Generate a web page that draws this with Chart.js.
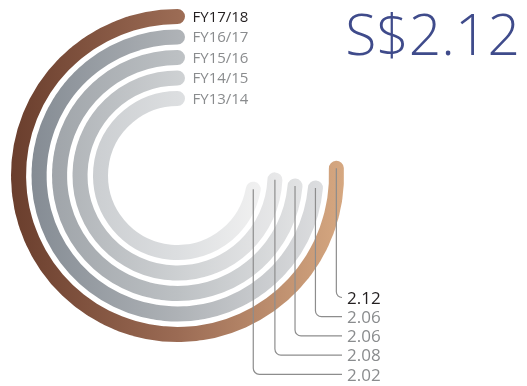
<!DOCTYPE html>
<html lang="en">
<head>
  <meta charset="UTF-8">
  <title>Dividend per share</title>
  <script src="https://cdn.jsdelivr.net/npm/chart.js"></script>
  <style>
    html, body { margin: 0; padding: 0; background: #fff; }
    #wrap { position: relative; width: 527px; height: 386px; }
  </style>
</head>
<body>
  <div id="wrap"><canvas id="myChart"></canvas></div>

  <script>
    // outer ring first
    const years = ['FY17/18', 'FY16/17', 'FY15/16', 'FY14/15', 'FY13/14']
    const values = [2.12, 2.06, 2.06, 2.08, 2.02]
    const fullTurn = 2.8   // value that would close a ring
    const headline = 'S$2.12'

    // left, middle, right colour of each ring
    const ringColors = [
      ['#6a3e2d', '#9b6b54', '#d6a881'],
      ['#858c94', '#aeb2b6', '#dddee0'],
      ['#a0a5aa', '#bcc0c3', '#e2e3e4'],
      ['#b2b6ba', '#cdd0d2', '#e9e9ea'],
      ['#cbced1', '#dcdee0', '#f1f1f1']
    ]
    const ringWidth = 15

    const ringStroke = (c) => {
      const chart = c.chart
      const area = chart.chartArea
      const cols = ringColors[c.dataset.ring]
      const ctrl = chart.getDatasetMeta(c.datasetIndex).controller
      if (!area || !ctrl || !isFinite(ctrl.outerRadius)) return cols[1]
      const cx = (area.left + area.right) / 2
      const r = ctrl.outerRadius + ringWidth / 2
      const g = chart.ctx.createLinearGradient(cx - r, 0, cx + r, 0)
      g.addColorStop(0, cols[0])
      g.addColorStop(0.5, cols[1])
      g.addColorStop(1, cols[2])
      return g
    }

    const datasets = []
    years.forEach((year, i) => {
      // empty ring that only makes the white gap
      if (i > 0) datasets.push({ data: [], weight: 1 })
      datasets.push({
        label: year,
        ring: i,
        data: [fullTurn - values[i], values[i]],
        weight: 0,
        backgroundColor: 'transparent',
        borderColor: ringStroke,
        borderWidth: [0, ringWidth],
        hoverBorderWidth: [0, ringWidth],
        borderJoinStyle: 'round'
      })
    })

    const valueTop = 299
    const valueStep = 19.2

    const ringLabels = {
      id: 'ringLabels',
      afterDatasetsDraw(chart) {
        const ctx = chart.ctx
        ctx.save()
        chart.data.datasets.forEach((ds, di) => {
          if (ds.ring === undefined) return
          const i = ds.ring
          const arc = chart.getDatasetMeta(di).data[1]
          const r = arc.outerRadius

          ctx.font = '15px "Open Sans"'
          ctx.textAlign = 'left'
          ctx.textBaseline = 'middle'
          ctx.fillStyle = i === 0 ? '#231f20' : '#8a8c8e'
          ctx.fillText(years[i], arc.x + 15, arc.y - r + 1)

          // leader from the end of the ring down to its value
          const px = arc.x + r * Math.cos(arc.startAngle)
          const py = arc.y + r * Math.sin(arc.startAngle)
          const ty = valueTop + i * valueStep
          const ly = ty - 1.5
          const endX = 342
          const rad = Math.min(6, endX - px)
          ctx.beginPath()
          ctx.moveTo(px, py)
          ctx.lineTo(px, ly - rad)
          ctx.arcTo(px, ly, px + rad, ly, rad)
          ctx.lineTo(endX, ly)
          ctx.strokeStyle = '#8d8d8d'
          ctx.lineWidth = 1.2
          ctx.stroke()

          ctx.font = '17px "Open Sans"'
          ctx.fillStyle = i === 0 ? '#231f20' : '#8a8c8e'
          ctx.fillText(values[i].toFixed(2), 347, ty)
        })

        ctx.font = '300 57px "Open Sans"'
        ctx.textAlign = 'right'
        ctx.textBaseline = 'alphabetic'
        ctx.fillStyle = '#3f4b8b'
        ctx.fillText(headline, 520, 55)
        ctx.restore()
      }
    }

    new Chart(document.getElementById('myChart'), {
      type: 'doughnut',
      data: { labels: ['', ''], datasets: datasets },
      options: {
        responsive: true,
        maintainAspectRatio: false,
        animation: false,
        events: [],
        rotation: 0,
        circumference: 360,
        cutout: 77,
        layout: { padding: { left: 11, top: 9, right: 183, bottom: 44 } },
        plugins: {
          legend: { display: false },
          tooltip: { enabled: false }
        }
      },
      plugins: [ringLabels]
    })
  </script>
</body>
</html>
